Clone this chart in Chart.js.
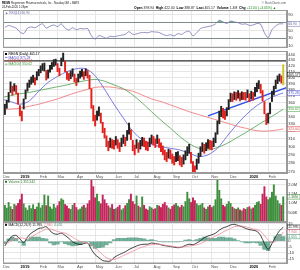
<!DOCTYPE html>
<html>
<head>
<meta charset="utf-8">
<script src="https://cdn.jsdelivr.net/npm/chart.js@4.4.1/dist/chart.umd.min.js"></script>
<style>
  html, body { margin: 0; padding: 0; background: #fff; }
  #wrap { position: relative; width: 300px; height: 270px; overflow: hidden; }
  canvas { position: absolute; left: 0; }
</style>
</head>
<body>
<div id="wrap">
  <canvas id="rsi" style="top:0" width="300" height="48"></canvas>
  <canvas id="price" style="top:51px" width="300" height="129"></canvas>
  <canvas id="volume" style="top:179px" width="300" height="43"></canvas>
  <canvas id="macd" style="top:222px" width="300" height="48"></canvas>
</div>
<script>
// x values are days since 1-Dec-2018
const monthDays = [3, 31, 62, 90, 121, 151, 182, 212, 243, 274, 304, 335, 365, 396, 427];
const monthLabels = ['Dec', '2019', 'Feb', 'Mar', 'Apr', 'May', 'Jun', 'Jul', 'Aug', 'Sep', 'Oct', 'Nov', 'Dec', '2020', 'Feb'];

// price bars, one every 3 days from day 6
const priceLow = [
  343, 352, 361, 376, 372, 378, 374, 358, 341, 334, 351, 366, 378, 384, 389, 392, 388, 396, 403, 408,
  412, 411, 396, 399, 409, 414, 419, 421, 410, 403, 420, 428, 410, 397, 395, 398, 402, 393, 387, 393,
  399, 402, 397, 403, 399, 382, 352, 334, 327, 335, 341, 331, 318, 311, 300, 295, 299, 298, 297, 302,
  298, 294, 300, 304, 301, 308, 316, 309, 295, 290, 298, 293, 297, 301, 300, 296, 295, 300, 304, 302,
  299, 304, 299, 294, 290, 284, 282, 286, 285, 280, 278, 282, 283, 278, 276, 279, 284, 289, 292, 280,
  270, 268, 273, 280, 288, 294, 292, 295, 298, 297, 296, 300, 305, 316, 330, 340, 338, 336, 341, 350,
  362, 362, 365, 364, 367, 363, 365, 365, 364, 368, 362, 366, 364, 370, 377, 382, 375, 363, 344, 329,
  331, 344, 362, 372, 382, 390, 394, 391, 388
];
const priceHigh = [
  358, 364, 376, 393, 386, 390, 387, 375, 356, 348, 366, 380, 391, 396, 401, 404, 400, 410, 414, 420,
  424, 425, 412, 413, 421, 426, 431, 432, 424, 416, 434, 443, 428, 410, 407, 411, 415, 406, 399, 406,
  411, 414, 410, 415, 412, 404, 382, 356, 342, 348, 354, 345, 332, 324, 314, 307, 311, 309, 308, 313,
  309, 305, 311, 315, 312, 321, 331, 322, 308, 302, 309, 305, 308, 312, 311, 307, 306, 311, 315, 313,
  310, 315, 310, 305, 301, 296, 293, 297, 296, 291, 288, 293, 294, 289, 287, 290, 295, 300, 303, 293,
  282, 277, 285, 292, 300, 305, 303, 305, 309, 308, 307, 311, 318, 334, 348, 355, 352, 348, 353, 365,
  375, 374, 377, 376, 379, 375, 377, 376, 376, 380, 374, 378, 376, 384, 391, 395, 389, 379, 362, 344,
  345, 360, 378, 386, 396, 403, 406, 403, 422
];
const volumeK = [
  900, 750, 1050, 820, 680, 950, 870, 1000, 1200, 1500,
  980, 760, 640, 880, 720, 930, 680, 810, 1020, 760,
  900, 1450, 880, 1400, 820, 700, 950, 760, 880, 1100,
  1250, 1180, 940, 860, 720, 680, 900, 1000, 780, 650,
  700, 820, 900, 760, 980, 1150, 2300, 1900, 1300, 1500,
  1100, 980, 1450, 1200, 1000, 870, 760, 940, 680, 720,
  800, 900, 650, 720, 880, 1000, 1200, 1500, 1100, 950,
  1400, 860, 780, 1350, 900, 700, 640, 820, 760, 680,
  720, 900, 860, 780, 950, 1050, 880, 760, 690, 840,
  920, 1000, 860, 780, 900, 820, 1100, 1600, 1250, 1050,
  1300, 1150, 980, 880, 920, 1000, 760, 680, 820, 900,
  780, 860, 1200, 2300, 1700, 1250, 900, 820, 950, 1100,
  1000, 800, 720, 680, 760, 650, 600, 720, 680, 780,
  820, 700, 760, 900, 1050, 1100, 950, 1500, 1900, 1350,
  1200, 1300, 1600, 2000, 1400, 1150, 980, 900, 1355
];

// moving averages, one point every 15 days from day 0
const ma50 = [366, 362, 358, 363, 378, 392, 402, 410, 415, 415, 403, 381, 358, 338, 320, 309, 303, 300, 298, 296, 292, 288, 290, 298, 313, 328, 342, 354, 363, 370, 375.28];
const ma100 = [368, 371, 374, 376, 379, 382, 385, 388, 392, 395, 397, 394, 388, 382, 372, 360, 347, 335, 324, 313, 304, 298, 296, 299, 304, 311, 318, 326, 334, 342, 350.62];
const ma200 = [350, 351, 352, 355, 358, 362, 366, 371, 376, 380, 384, 385, 384, 381, 378, 372, 366, 362, 357, 352, 347, 343, 339, 335, 331, 327, 324, 321, 320, 321, 323.04];
const resistance = 428.8;
const trendDays = [330, 456];
const trendPrices = [341, 384];

// indicators, one point every 6 days from day 6
const rsi = [
  58, 63, 60, 56, 46, 42, 56, 59, 57, 63, 67, 56, 61, 64, 60, 67, 56, 51, 57, 52,
  55, 54, 55, 36, 28, 37, 34, 30, 35, 34, 36, 38, 40, 47, 40, 41, 44, 45, 44, 47,
  46, 45, 40, 37, 39, 36, 42, 40, 46, 48, 36, 44, 55, 58, 60, 62, 67, 76, 72, 68,
  74, 72, 70, 66, 67, 63, 64, 68, 66, 44, 31, 52, 62, 67, 66.9
];
const macd = [
  -4, 1, 4.5, 5, 2, -1, 3.5, 7, 9, 11, 11.5, 12.5, 9, 6.5, 6, 7, 5, 2.5, -0.5, -2,
  -2.8, -2, -1.5, -7, -11.5, -14, -16.5, -17, -17, -14, -12, -10.5, -9, -7, -5.5, -4, -3, -2.5, -2.5, -1.5,
  -2, -2.5, -3.5, -4, -4.5, -5, -5.5, -5, -3.5, -2.5, -3, -1.5, 0.5, 3, 4.5, 5.5, 7, 9.5, 11.5, 12.5,
  14, 14.5, 13.5, 12.5, 11, 10, 9.5, 8.5, 5, -2, -7, -2, 4, 9, 12
];
const signal = [
  -2, -1, 1, 2.5, 3, 2.5, 2, 3.5, 5.5, 7.5, 9, 10.5, 10.5, 9.5, 8.5, 7.5, 7, 5.5, 3.5, 1.5,
  0, -1, -1.5, -3, -5.5, -8.5, -11.5, -14, -15.5, -15.5, -14.5, -13, -11.5, -10, -8.5, -7, -5.5, -4.5, -3.5, -3,
  -2.5, -2.5, -3, -3.5, -4, -4.5, -5, -5, -4.5, -4, -3.5, -3, -2, -0.5, 1.5, 3, 4.5, 6, 8, 9.5,
  11, 12.5, 13, 13, 12.5, 11.5, 10.5, 10, 8.5, 5, 1, -1, 0, 3, 7.94
];
const hist = [
  -2, 2, 3.5, 2.5, -1, -3.5, 1.5, 3.5, 3.5, 3.5, 2.5, 2, -1.5, -3, -2.5, -0.5, -2, -3, -4, -3.5,
  -2.8, -1, 0, -4, -6, -5.5, -5, -3, -1.5, 1.5, 2.5, 2.5, 2.5, 3, 3, 3, 2.5, 2, 1, 1.5,
  0.5, 0, -0.5, -0.5, -0.5, -0.5, -0.5, 0, 1, 1.5, 0.5, 1.5, 2.5, 3.5, 3, 2.5, 2.5, 3.5, 3.5, 3,
  3, 2, 0.5, -0.5, -1.5, -1.5, -1, -1.5, -3.5, -7, -8, -1, 4, 6, 4.06
];

const priceTicks = [270, 280, 290, 300, 310, 320, 330, 340, 350, 360, 370, 380, 390, 400, 410, 420, 430, 440];
const rsiTicks = [10, 30, 50, 70, 90];
const volumeTicks = [500000, 1000000, 1500000, 2000000];
const volumeTickLabels = ['500K', '1.0M', '1.5M', '2.0M'];
const macdTicks = [15, 10, 5, 0, -5, -10, -15];

const FONT = "'Liberation Sans', Arial, sans-serif";
const GRID = '#e6e6e6';
const BORDER = '#9a9a9a';
const X_MIN = 3, X_MAX = 456;

const barDay = i => 6 + 3 * i;
const indDay = i => 6 + 6 * i;
const maDay = i => 15 * i;

const mid = priceHigh.map((h, i) => (h + priceLow[i]) / 2);
const up = mid.map((m, i) => i === 0 || m >= mid[i - 1]);
const candleColors = up.map((u, i) => i === up.length - 1 ? '#d2c02c' : (u ? '#222' : '#e3201c'));
const volumeColors = up.map(u => u ? '#3f8f3f' : '#c4245a');

function xAxis(labelHeight) {
  return {
    type: 'linear', min: X_MIN, max: X_MAX, offset: false,
    afterBuildTicks: s => { s.ticks = monthDays.map(v => ({ value: v })); },
    afterFit: s => { s.height = labelHeight; s.paddingLeft = 0; s.paddingRight = 0; },
    grid: { color: GRID, drawTicks: false, offset: false },
    border: { color: BORDER },
    ticks: {
      display: labelHeight > 0, autoSkip: false, maxRotation: 0, minRotation: 0, align: 'start', padding: 1.2,
      font: ctx => ({ family: FONT, size: 4, weight: /^\d/.test(monthLabels[ctx.index]) ? 'bold' : 'normal' }),
      color: ctx => /^\d/.test(monthLabels[ctx.index]) ? '#000' : '#555',
      callback: (v, i) => monthLabels[i]
    }
  };
}

function yAxis(opts, tickValues, labelFn) {
  return Object.assign({
    position: 'right',
    afterBuildTicks: s => { s.ticks = tickValues.map(v => ({ value: v })); },
    afterFit: s => { s.width = 13; s.paddingTop = 0; s.paddingBottom = 0; },
    grid: { color: GRID, drawTicks: false },
    border: { color: BORDER },
    ticks: {
      padding: 1.2, autoSkip: false, font: { family: FONT, size: 4 }, color: '#333',
      callback: (v, i) => labelFn ? labelFn(v, i) : String(v)
    }
  }, opts);
}

function baseOptions(padTop) {
  return {
    responsive: false, animation: false, events: [],
    layout: { padding: { left: 3, top: padTop, right: 0, bottom: 0 } },
    plugins: { legend: { display: false }, tooltip: { enabled: false } },
    elements: { point: { radius: 0 }, line: { borderWidth: 0.8, tension: 0.3 } }
  };
}

function drawText(c, s, x, y, size, color, weight, align) {
  c.font = `${weight || 'normal'} ${size}px ${FONT}`;
  c.fillStyle = color;
  c.textAlign = align || 'left';
  c.textBaseline = 'middle';
  c.fillText(s, x, y);
  return c.measureText(s).width;
}

function valueBox(c, chart, scaleId, value, label, color) {
  const y = chart.scales[scaleId].getPixelForValue(value);
  const x = chart.chartArea.right + 0.5;
  c.fillStyle = '#fff';
  c.fillRect(x, y - 2.3, 12.5, 4.6);
  c.strokeStyle = color;
  c.lineWidth = 0.5;
  c.strokeRect(x, y - 2.3, 12.5, 4.6);
  drawText(c, label, x + 0.8, y + 0.2, 3.4, color);
}

function frame(c, chart) {
  const a = chart.chartArea;
  c.strokeStyle = BORDER;
  c.lineWidth = 1;
  c.strokeRect(a.left + 0.5, a.top + 0.5, a.right - a.left - 1, a.bottom - a.top - 1);
}

function panelPlugin(draw) {
  return {
    id: 'panelText',
    afterDraw(chart) {
      const c = chart.ctx;
      c.save();
      frame(c, chart);
      draw(c, chart);
      c.restore();
    }
  };
}

function legendLines(c, chart, rows, startY, gap) {
  const x = chart.chartArea.left + 2;
  rows.forEach((r, i) => {
    const y = chart.chartArea.top + startY + i * gap;
    c.strokeStyle = r[1];
    c.fillStyle = r[1];
    if (r[2] === 'square') c.fillRect(x, y - 1, 2, 2);
    else { c.lineWidth = 0.7; c.beginPath(); c.moveTo(x, y); c.lineTo(x + 2.5, y); c.stroke(); }
    drawText(c, r[0], x + 3.5, y + 0.2, 3.3, r[1]);
  });
}

// RSI panel (with page header)
new Chart(document.getElementById('rsi'), {
  type: 'line',
  data: {
    datasets: [
      {
        data: rsi.map((v, i) => ({ x: indDay(i), y: v })),
        borderColor: '#7474b4', borderWidth: 0.8, tension: 0.2,
        fill: { value: 70, above: 'rgba(60,160,100,0.75)', below: 'rgba(0,0,0,0)' }
      },
      {
        data: rsi.map((v, i) => ({ x: indDay(i), y: v })),
        borderColor: 'rgba(0,0,0,0)', borderWidth: 0, tension: 0.2,
        fill: { value: 30, above: 'rgba(0,0,0,0)', below: 'rgba(60,150,160,0.75)' }
      }
    ]
  },
  options: Object.assign(baseOptions(10), {
    scales: {
      x: xAxis(0),
      y: yAxis({ min: 5, max: 102.6, grid: { drawTicks: false, color: ctx => (ctx.tick && (ctx.tick.value === 30 || ctx.tick.value === 70)) ? '#8a8a8a' : GRID } }, rsiTicks)
    }
  }),
  plugins: [panelPlugin((c, chart) => {
    let x = 2;
    x += drawText(c, 'REGN', x, 3.3, 2.8, '#000', 'bold') + 1;
    drawText(c, 'Regeneron Pharmaceuticals, Inc.  Nasdaq GM + BATS', x, 3.3, 2.8, '#222');
    drawText(c, '24-Feb-2020 1:28pm', 2, 7.6, 2.8, '#222');
    drawText(c, '\u00a9 StockCharts.com', 286, 3.2, 2.8, '#555', 'normal', 'right');
    const parts = [['Open ', 'bold', '#000'], ['398.94  ', 'normal', '#222'], ['High ', 'bold', '#000'], ['422.00  ', 'normal', '#222'],
      ['Low ', 'bold', '#000'], ['388.87  ', 'normal', '#222'], ['Last ', 'bold', '#000'], ['405.17  ', 'normal', '#222'],
      ['Volume ', 'bold', '#000'], ['1.4M  ', 'normal', '#222'], ['Chg ', 'bold', '#000'], ['+12.00 (+3.05%) \u25b2', 'normal', '#1a8a1a']];
    let px = 134;
    parts.forEach(p => { px += drawText(c, p[0], px, 7.6, 3.4, p[2], p[1]); });
    const a = chart.chartArea;
    c.fillStyle = '#7474b4';
    drawText(c, '\u25b2 RSI(14) 66.90', a.left + 2, a.top + 2.6, 3.3, '#6a6aa8');
    valueBox(c, chart, 'y', 66.9, '66.90', '#6a6aa8');
  })]
});

// price panel
new Chart(document.getElementById('price'), {
  type: 'bar',
  data: {
    datasets: [
      {
        type: 'bar', order: 0,
        data: priceLow.map((lo, i) => ({ x: barDay(i), y: [lo, priceHigh[i]] })),
        backgroundColor: candleColors, barThickness: 1.3, borderWidth: 0, grouped: false
      },
      { type: 'line', order: 1, data: ma50.map((v, i) => ({ x: maDay(i), y: v })), borderColor: '#5858d8' },
      { type: 'line', order: 1, data: ma100.map((v, i) => ({ x: maDay(i), y: v })), borderColor: '#4aa04a' },
      { type: 'line', order: 1, data: ma200.map((v, i) => ({ x: maDay(i), y: v })), borderColor: '#f07070' },
      { type: 'line', order: 1, data: [{ x: X_MIN, y: resistance }, { x: X_MAX, y: resistance }], borderColor: '#333', borderWidth: 1.2, tension: 0 },
      { type: 'line', order: 1, data: trendDays.map((d, i) => ({ x: d, y: trendPrices[i] })), borderColor: '#3050e8', borderWidth: 1.4, tension: 0 }
    ]
  },
  options: Object.assign(baseOptions(0), {
    scales: {
      x: xAxis(7),
      y: yAxis({ type: 'logarithmic', min: 268.9, max: 446.8 }, priceTicks)
    }
  }),
  plugins: [panelPlugin((c, chart) => {
    legendLines(c, chart, [
      ['REGN (Daily) 405.17', '#000', 'square'],
      ['MA(50) 375.28', '#4a4ad0'],
      ['MA(200) 323.04', '#e05050'],
      ['MA(100) 350.62', '#3a9a3a']
    ], 3, 3.4);
    valueBox(c, chart, 'y', 405.17, '405.17', '#000');
    valueBox(c, chart, 'y', 375.28, '375.28', '#4a4ad0');
    valueBox(c, chart, 'y', 350.62, '350.62', '#3a9a3a');
    valueBox(c, chart, 'y', 323.04, '323.04', '#e05050');
  })]
});

// volume panel
new Chart(document.getElementById('volume'), {
  type: 'bar',
  data: {
    datasets: [{
      data: volumeK.map((v, i) => ({ x: barDay(i), y: v * 1000 })),
      backgroundColor: volumeColors, barThickness: 1.3, borderWidth: 0
    }]
  },
  options: Object.assign(baseOptions(0), {
    scales: {
      x: xAxis(0),
      y: yAxis({ min: 0, max: 2310000 }, volumeTicks, (v, i) => volumeTickLabels[i])
    }
  }),
  plugins: [panelPlugin((c, chart) => {
    legendLines(c, chart, [['Volume 1,355,342', '#2e7d2e', 'square']], 2.8, 3.4);
    valueBox(c, chart, 'y', 1355342, '1.36M', '#2e7d2e');
  })]
});

// MACD panel
new Chart(document.getElementById('macd'), {
  type: 'bar',
  data: {
    datasets: [
      {
        type: 'bar', order: 1,
        data: hist.map((v, i) => ({ x: indDay(i), y: v })),
        backgroundColor: 'rgba(70,150,120,0.75)', barThickness: 3.6, borderWidth: 0
      },
      { type: 'line', order: 0, data: signal.map((v, i) => ({ x: indDay(i), y: v })), borderColor: '#ee8a98' },
      { type: 'line', order: 0, data: macd.map((v, i) => ({ x: indDay(i), y: v })), borderColor: '#111' }
    ]
  },
  options: Object.assign(baseOptions(0), {
    scales: {
      x: xAxis(6.5),
      y: yAxis({ min: -19, max: 16.5 }, macdTicks)
    }
  }),
  plugins: [panelPlugin((c, chart) => {
    const a = chart.chartArea;
    const y = a.top + 2.8;
    let x = a.left + 2;
    c.fillStyle = '#111';
    c.fillRect(x, y - 1, 2, 2);
    x += 3.5;
    x += drawText(c, 'MACD(12,26,9) 11.995, ', x, y + 0.2, 3.3, '#111');
    x += drawText(c, '7.940, ', x, y + 0.2, 3.3, '#e07080');
    drawText(c, '4.055', x, y + 0.2, 3.3, '#3a9070');
    valueBox(c, chart, 'y', 12, '11.995', '#111');
    valueBox(c, chart, 'y', 7.94, '7.940', '#e07080');
    valueBox(c, chart, 'y', 4.06, '4.055', '#3a9070');
  })]
});
</script>
</body>
</html>
